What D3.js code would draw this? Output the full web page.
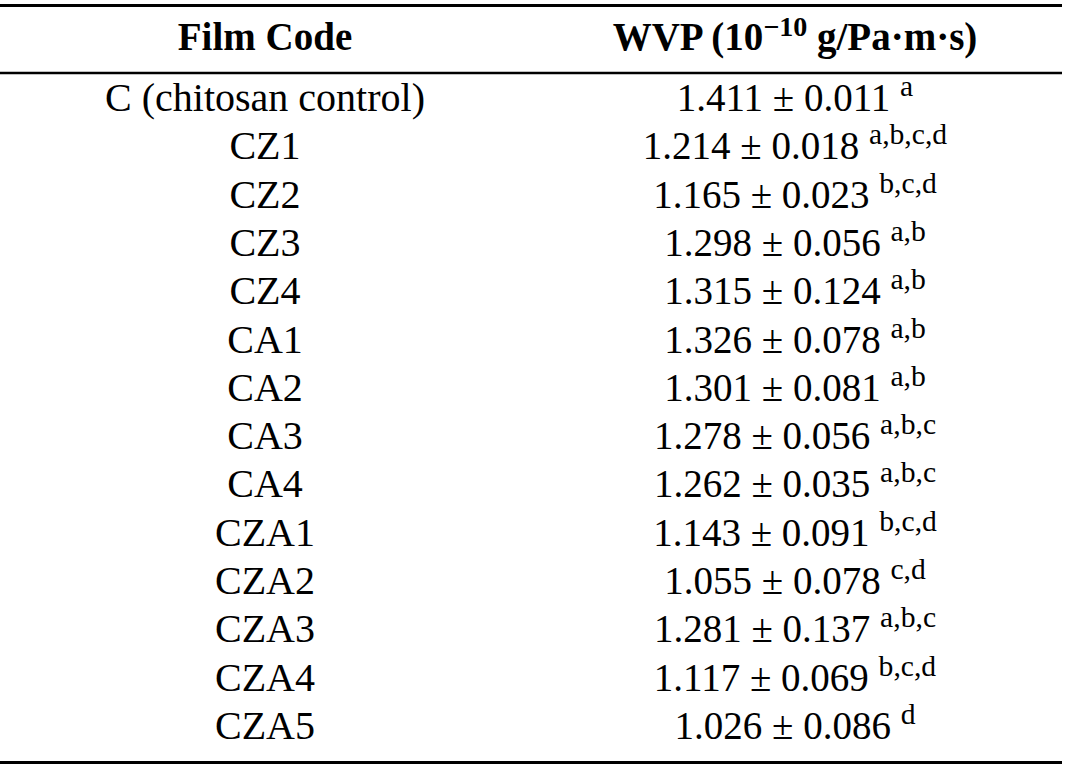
<!DOCTYPE html>
<html>
<head>
<meta charset="utf-8">
<script src="https://cdn.jsdelivr.net/npm/d3@7"></script>
<style>
  html, body { margin: 0; padding: 0; background: #fff; }
  svg { display: block; }
  text { font-family: "Liberation Serif", "DejaVu Serif", serif; fill: #000; }
</style>
</head>
<body>
<script>
// ---- data ----
const films = ["C (chitosan control)", "CZ1", "CZ2", "CZ3", "CZ4", "CA1", "CA2", "CA3", "CA4",
               "CZA1", "CZA2", "CZA3", "CZA4", "CZA5"];
const wvpMean = ["1.411", "1.214", "1.165", "1.298", "1.315", "1.326", "1.301", "1.278", "1.262",
                 "1.143", "1.055", "1.281", "1.117", "1.026"];
const wvpSD = ["0.011", "0.018", "0.023", "0.056", "0.124", "0.078", "0.081", "0.056", "0.035",
               "0.091", "0.078", "0.137", "0.069", "0.086"];
const letters = ["a", "a,b,c,d", "b,c,d", "a,b", "a,b", "a,b", "a,b", "a,b,c", "a,b,c",
                 "b,c,d", "c,d", "a,b,c", "b,c,d", "d"];
const columns = ["Film Code", "WVP"];

// ---- layout ----
const W = 1068, H = 764;
const svg = d3.select("body").append("svg").attr("width", W).attr("height", H);

const x = d3.scaleOrdinal().domain(columns).range([265, 795]);
const y = d3.scalePoint().domain(d3.range(films.length)).range([111, 739]);

const fs = 39;      // value font size
const fsName = 40;  // film code font size
const supK = 0.76;

// rules
const rules = [{y: 5.5, w: 3}, {y: 73, w: 2.4}, {y: 762.5, w: 3}];
svg.selectAll("line.rule").data(rules).enter().append("line")
  .attr("class", "rule")
  .attr("x1", 0).attr("x2", 1062)
  .attr("y1", d => d.y).attr("y2", d => d.y)
  .attr("stroke", "#000").attr("stroke-width", d => d.w);

// header
svg.append("text")
  .attr("x", x("Film Code")).attr("y", 50)
  .attr("text-anchor", "middle")
  .attr("font-size", fs).attr("font-weight", "bold")
  .text("Film Code");

const h2 = svg.append("text")
  .attr("x", x("WVP")).attr("y", 50)
  .attr("text-anchor", "middle")
  .attr("font-size", fs).attr("font-weight", "bold");
h2.append("tspan").text("WVP (10");
h2.append("tspan").attr("font-size", fs * 0.72).attr("dy", -14).text("\u221210");
h2.append("tspan").attr("dy", 14).text(" g/Pa\u00B7m\u00B7s)");

// rows
const rows = svg.selectAll("g.row").data(films).enter().append("g").attr("class", "row");

rows.append("text")
  .attr("x", x("Film Code"))
  .attr("y", (d, i) => y(i))
  .attr("text-anchor", "middle")
  .attr("font-size", fsName)
  .text(d => d);

const val = rows.append("text")
  .attr("x", x("WVP"))
  .attr("y", (d, i) => y(i))
  .attr("text-anchor", "middle")
  .attr("font-size", fs);
val.append("tspan").text((d, i) => wvpMean[i] + " \u00B1 " + wvpSD[i] + " ");
val.append("tspan").attr("font-size", fs * supK).attr("dy", -15).text((d, i) => letters[i]);
</script>
</body>
</html>
